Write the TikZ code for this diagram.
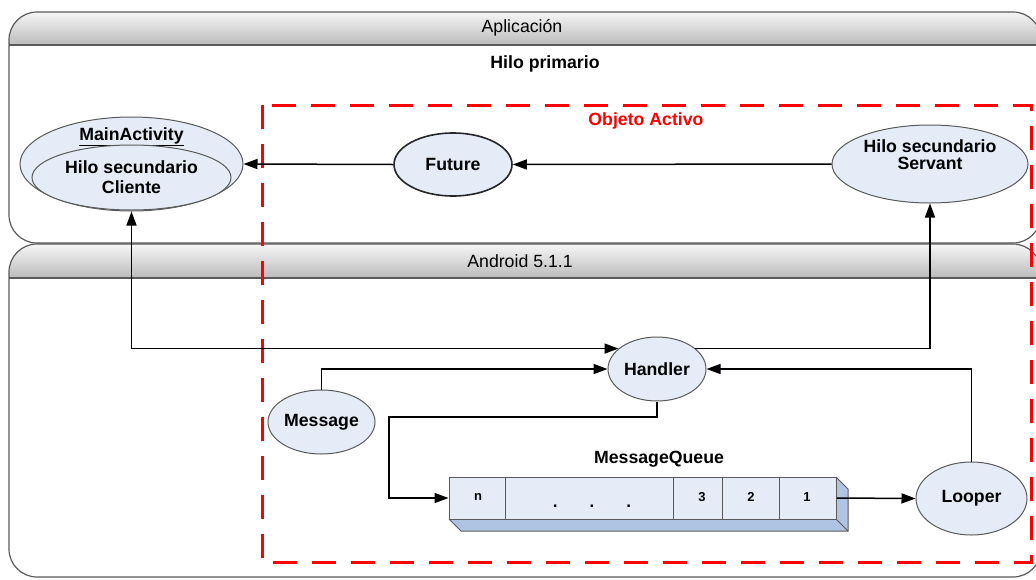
\documentclass[tikz,border=0pt]{standalone}
\usepackage{fontspec}
\setmainfont{Liberation Sans}
\usetikzlibrary{shapes.geometric,arrows.meta}
\definecolor{nodefill}{HTML}{E6ECF7}
\definecolor{sidefill}{HTML}{AFC4E2}
\definecolor{frame}{HTML}{5A5A5A}
\definecolor{hdrtop}{HTML}{F6F6F6}
\definecolor{hdrbot}{HTML}{BBBBBB}
\definecolor{activered}{HTML}{FF0000}

\begin{document}
\begin{tikzpicture}[x=1pt,y=-1pt,
  bigfont/.style={font=\fontsize{17.7}{21}\selectfont},
  lbl/.style={bigfont,font=\fontsize{17.7}{21}\selectfont\bfseries},
  cell/.style={font=\fontsize{13}{15}\selectfont\bfseries},
  panel/.style={draw=frame,line width=1.2pt,rounded corners=28pt},
  oval/.style={ellipse,draw=frame,line width=1pt,fill=nodefill,inner sep=0pt,
    lbl,align=center},
  arr/.style={draw=black,line width=1.5pt,-{Triangle[length=14pt,width=10pt]}},
  biarr/.style={draw=black,line width=1.5pt,
    {Triangle[length=14pt,width=10pt]}-{Triangle[length=14pt,width=10pt]}},
  active/.style={draw=activered,line width=3pt,dash pattern=on 24pt off 15pt},
]
\useasboundingbox (0,0) rectangle (1036,579);

\begin{scope}
  \clip (0,0) rectangle (1036,579);
  % Application layer
  \fill[white,rounded corners=28pt] (9,12) rectangle (1041,243);
  \begin{scope}
    \clip[rounded corners=28pt] (9,12) rectangle (1041,243);
    \shade[top color=hdrtop,bottom color=hdrbot] (9,12) rectangle (1041,45);
  \end{scope}
  \draw[panel] (9,12) rectangle (1041,243);
  \draw[draw=frame,line width=1.2pt] (9,45) -- (1041,45);

  % Android layer
  \fill[white,rounded corners=28pt] (9,244) rectangle (1041,577);
  \begin{scope}
    \clip[rounded corners=28pt] (9,244) rectangle (1041,577);
    \shade[top color=hdrtop,bottom color=hdrbot] (9,244) rectangle (1041,278);
  \end{scope}
  \draw[panel] (9,244) rectangle (1041,577);
  \draw[draw=frame,line width=1.2pt] (9,278) -- (1041,278);
\end{scope}

\node[bigfont] (apptitle) at (522,28) {Aplicación};
\node[bigfont] (droidtitle) at (520,261) {Android 5.1.1};
\node[lbl] (primario) at (545,64) {Hilo primario};

% Active object boundary
\draw[active] (262,105) rectangle (1031,562);
\node[lbl,text=activered] (activo) at (646,121) {Objeto Activo};

% Nodes
\node[oval,minimum width=223pt,minimum height=94pt] (mainact) at (131.5,164) {};
\node[lbl] (mainlbl) at (131.5,137) {\underline{MainActivity}};
\node[oval,minimum width=199pt,minimum height=65pt] (cliente) at (131.5,177.5)
  {Hilo secundario\\[-1pt]Cliente};
\node[oval,draw=black!85,line width=1.6pt,minimum width=118pt,minimum height=63pt]
  (future) at (453,164.5) {Future};
\node[oval,minimum width=196pt,minimum height=78pt] (servant) at (930,164) {};
\node[lbl,align=center] (servantlbl) at (930,155) {Hilo secundario\\[-4pt]Servant};
\node[oval,minimum width=98pt,minimum height=64pt] (handler) at (657,369) {Handler};
\node[oval,minimum width=107pt,minimum height=64pt] (message) at (321.5,422) {Message};
\node[oval,minimum width=111pt,minimum height=73pt] (looper) at (971.5,498.5) {Looper};

% Message queue with its 3D faces
\fill[sidefill] (449,519) -- ++(12,12) -- (848,531) -- (848,489) -- (836,477) -- (836,519) -- cycle;
\draw[frame,line width=1pt] (449,519) -- ++(12,12) -- (848,531) -- (848,489) -- (836,477);
\draw[frame,line width=1pt] (836,519) -- (848,531);
\node[draw=frame,line width=1pt,fill=nodefill,minimum width=387pt,minimum height=42pt,
  inner sep=0pt] (queue) at (642.5,498) {};
\foreach \dx in {57,225,274,331}
  \draw[frame,line width=1pt] ([xshift=\dx pt]queue.north west) -- ([xshift=\dx pt]queue.south west);
\node[cell] (celln) at (478,497) {n};
\node[cell,anchor=base,font=\fontsize{17}{19}\selectfont\bfseries] (celldots) at (592,507)
  {.\hspace{32pt}.\hspace{32pt}.};
\node[cell] (cell3) at (702,497) {3};
\node[cell] (cell2) at (751,497) {2};
\node[cell] (cell1) at (807,497) {1};
\node[lbl] (queuelbl) at (659,459) {MessageQueue};

% Connectors
\coordinate (qbend) at (389,417);
\draw[arr] (servant.west) -- (future.east);
\draw[arr] (future.west) -- (mainact.east);
\draw[biarr] (mainact.south) |- (handler.152);
\draw[arr] (handler.28) -| (servant.south);
\draw[arr] (message.north) |- (handler.west);
\draw[arr] (handler.south) |- (qbend) |- (queue.west);
\draw[arr] (queue.east) -- (looper.west);
\draw[arr] (looper.north) |- (handler.east);
\end{tikzpicture}
\end{document}
